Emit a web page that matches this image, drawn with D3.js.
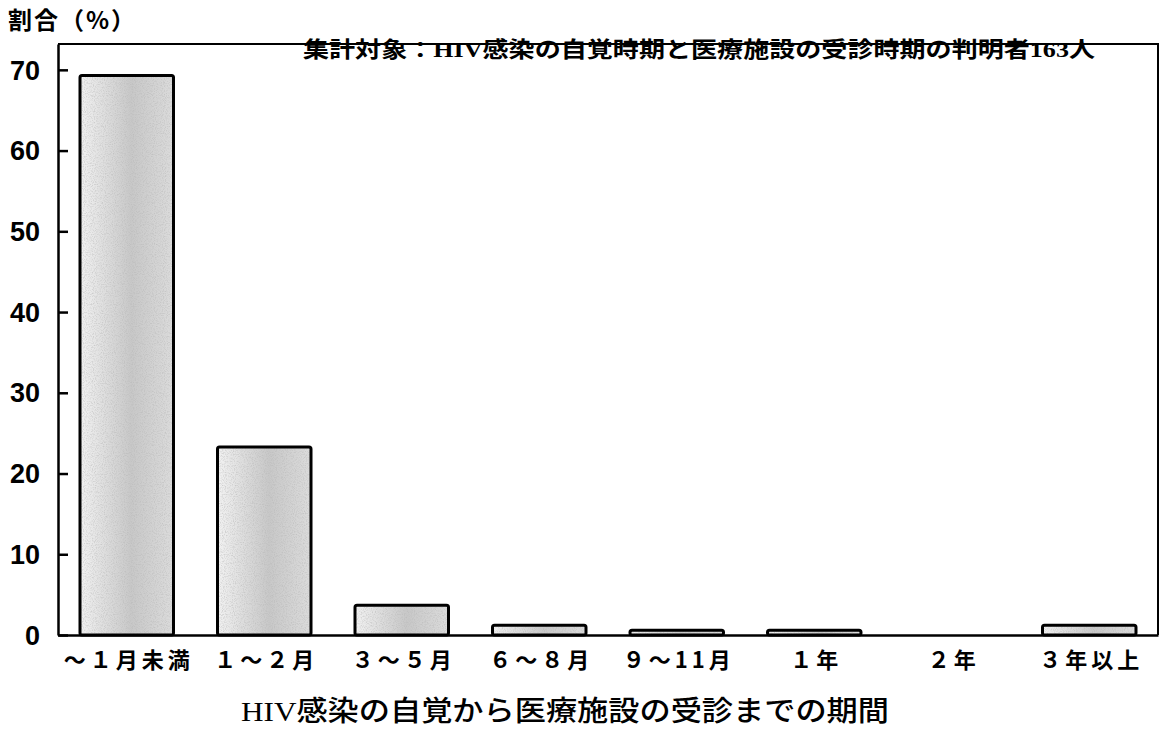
<!DOCTYPE html>
<html lang="ja">
<head>
<meta charset="utf-8">
<script src="https://cdn.jsdelivr.net/npm/d3@7"></script>
<style>
  html, body { margin: 0; padding: 0; background: #fff; }
  svg { display: block; }
</style>
</head>
<body>
<script>
// Periods between becoming aware of HIV infection and visiting a medical facility
const categories = ["～１月未満", "１～２月", "３～５月", "６～８月", "９～11月", "１年", "２年", "３年以上"];
// Share of respondents (%), n = 163
const shares = [69.3, 23.3, 3.7, 1.2, 0.6, 0.6, 0, 1.2];
const yTicks = [0, 10, 20, 30, 40, 50, 60, 70];
const yTop = 73.2;

const W = 1160, H = 744;
const margin = { left: 58, right: 2, top: 44, bottom: 109 };
const gothic = "'Noto Sans CJK JP', 'Noto Sans', sans-serif";
const serif = "'Liberation Serif', 'DejaVu Serif', 'Noto Sans CJK JP', serif";
const numFont = "'Liberation Sans', Arial, sans-serif";

const svg = d3.select("body").append("svg").attr("width", W).attr("height", H);

const x = d3.scaleBand()
  .domain(categories)
  .range([margin.left, W - margin.right])
  .paddingInner(0.32)
  .paddingOuter(0.16);

const y = d3.scaleLinear()
  .domain([0, yTop])
  .range([H - margin.bottom, margin.top]);

// Grainy grey fill for the bars
const defs = svg.append("defs");
const f = defs.append("filter").attr("id", "grain")
  .attr("x", 0).attr("y", 0).attr("width", 1).attr("height", 1);
f.append("feTurbulence").attr("type", "fractalNoise").attr("baseFrequency", 0.9)
  .attr("numOctaves", 2).attr("seed", 3).attr("result", "noise");
f.append("feColorMatrix").attr("in", "noise").attr("type", "matrix")
  .attr("values", "0 0 0 0 0.45  0 0 0 0 0.45  0 0 0 0 0.45  0 0 0 -2.2 1.25")
  .attr("result", "dots");
f.append("feComposite").attr("in", "dots").attr("in2", "SourceGraphic").attr("operator", "in");

const grad = defs.append("linearGradient").attr("id", "shade")
  .attr("x1", 0).attr("x2", 1).attr("y1", 0).attr("y2", 0);
grad.append("stop").attr("offset", "0%").attr("stop-color", "#f2f2f2");
grad.append("stop").attr("offset", "55%").attr("stop-color", "#c8c8c8");
grad.append("stop").attr("offset", "100%").attr("stop-color", "#dcdcdc");

// Bars
const bars = svg.append("g");
bars.selectAll("rect.base")
  .data(shares)
  .join("rect")
  .attr("class", "base")
  .attr("x", (d, i) => x(categories[i]))
  .attr("y", d => y(d))
  .attr("width", x.bandwidth())
  .attr("height", d => y(0) - y(d))
  .attr("fill", "url(#shade)");
bars.selectAll("rect.grain")
  .data(shares)
  .join("rect")
  .attr("class", "grain")
  .attr("x", (d, i) => x(categories[i]))
  .attr("y", d => y(d))
  .attr("width", x.bandwidth())
  .attr("height", d => y(0) - y(d))
  .attr("fill", "#fff")
  .attr("filter", "url(#grain)")
  .attr("opacity", 0.55);
bars.selectAll("rect.edge")
  .data(shares.map((d, i) => ({ d, i })).filter(o => o.d > 0))
  .join("rect")
  .attr("class", "edge")
  .attr("x", o => x(categories[o.i]))
  .attr("y", o => y(o.d))
  .attr("width", x.bandwidth())
  .attr("height", o => y(0) - y(o.d))
  .attr("rx", 2)
  .attr("fill", "none")
  .attr("stroke", "#000")
  .attr("stroke-width", 3);

// Plot frame (top, right) and axes
svg.append("path")
  .attr("d", `M${margin.left},${margin.top}H${W - margin.right}V${y(0)}`)
  .attr("fill", "none").attr("stroke", "#000").attr("stroke-width", 2);

const yAxis = svg.append("g")
  .attr("transform", `translate(${margin.left},0)`)
  .call(d3.axisLeft(y).tickValues(yTicks).tickSizeInner(-10).tickSizeOuter(0).tickPadding(18));
yAxis.select(".domain").attr("stroke-width", 2.5);
yAxis.selectAll(".tick line").attr("stroke-width", 2.5);
yAxis.selectAll(".tick text")
  .attr("font-family", numFont).attr("font-size", 27).attr("font-weight", "bold").attr("fill", "#000")
  .attr("dy", "0.34em");

const xAxis = svg.append("g")
  .attr("transform", `translate(0,${y(0)})`)
  .call(d3.axisBottom(x).tickSize(0).tickPadding(17));
xAxis.select(".domain").attr("stroke-width", 2.5);
xAxis.selectAll(".tick text")
  .attr("font-family", gothic).attr("font-size", 22).attr("font-weight", "bold").attr("fill", "#000")
  .attr("letter-spacing", 4).attr("dx", 2);

// Y-axis title
svg.append("text")
  .attr("x", 8).attr("y", 29)
  .attr("font-family", gothic).attr("font-size", 24).attr("font-weight", "bold")
  .attr("letter-spacing", 2)
  .text("割合（%）");

// Note on the sample
svg.append("text")
  .attr("x", 303).attr("y", 57)
  .attr("font-family", serif).attr("font-size", 22).attr("font-weight", "bold")
  .attr("textLength", 792).attr("lengthAdjust", "spacingAndGlyphs")
  .text("集計対象：HIV感染の自覚時期と医療施設の受診時期の判明者163人");

// X-axis title
svg.append("text")
  .attr("x", 241).attr("y", 721)
  .attr("font-family", serif).attr("font-size", 28).attr("font-weight", 500)
  .attr("textLength", 648).attr("lengthAdjust", "spacingAndGlyphs")
  .text("HIV感染の自覚から医療施設の受診までの期間");
</script>
</body>
</html>
